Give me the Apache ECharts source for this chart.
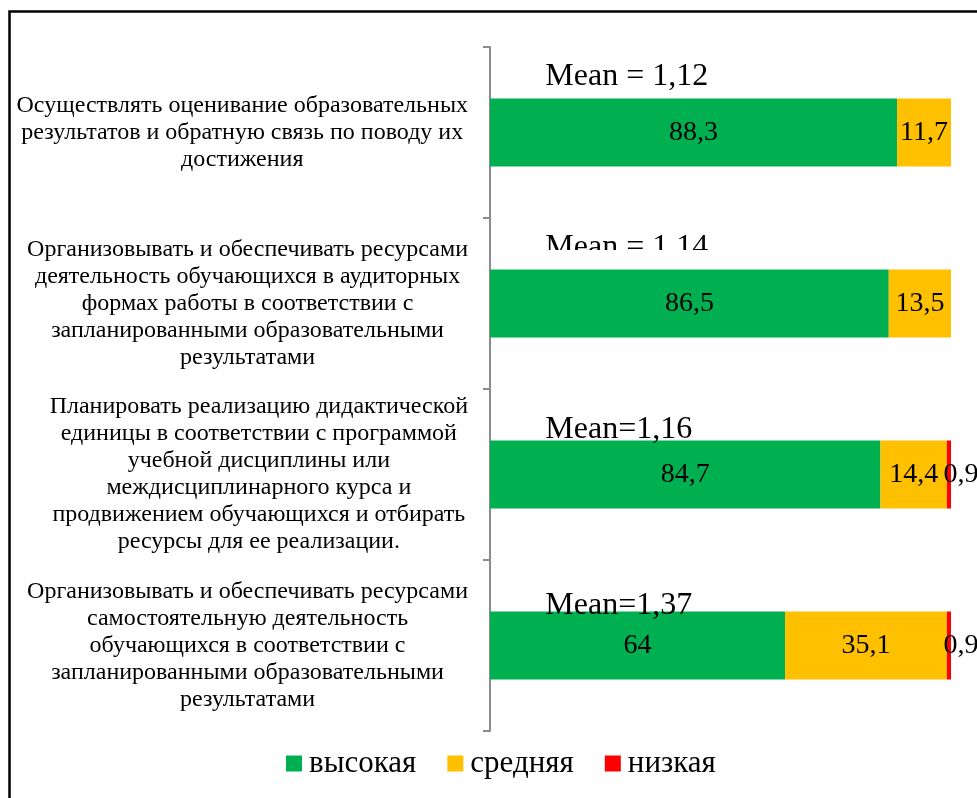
<!DOCTYPE html>
<html>
<head>
<meta charset="utf-8">
<script src="https://cdn.jsdelivr.net/npm/echarts@6/dist/echarts.min.js"></script>
<style>
  html, body { margin: 0; padding: 0; background: #fff; }
  #chart { width: 977px; height: 798px; }
</style>
</head>
<body>
<div id="chart"></div>
<script>
// категории (сверху вниз)
var categories = [
    'Осуществлять оценивание образовательных\nрезультатов и обратную связь по поводу их\nдостижения',
    'Организовывать и обеспечивать ресурсами\nдеятельность обучающихся в аудиторных\nформах работы в соответствии с\nзапланированными образовательными\nрезультатами',
    'Планировать реализацию дидактической\nединицы в соответствии с программой\nучебной дисциплины или\nмеждисциплинарного курса и\nпродвижением обучающихся и отбирать\nресурсы для ее реализации.',
    'Организовывать и обеспечивать ресурсами\nсамостоятельную деятельность\nобучающихся в соответствии с\nзапланированными образовательными\nрезультатами'
];
var seriesNames = ['высокая', 'средняя', 'низкая'];
var high = [88.3, 86.5, 84.7, 64];
var middle = [11.7, 13.5, 14.4, 35.1];
var low = [null, null, 0.9, 0.9];
var meanLabels = ['Mean = 1,12', 'Mean = 1,14', 'Mean=1,16', 'Mean=1,37'];

var font = "'Liberation Serif', 'Times New Roman', serif";
var colors = ['#00b050', '#ffc000', '#ff0000'];
var meanX = 12;                  // где начинается подпись Mean (в % шкалы)
var meanDy = [-56, -56, -45, -40]; // сдвиг подписи Mean над полосой

function fmt(p) {
    return String(p.value).replace('.', ',');
}

function barSeries(name, data, color, label) {
    return {
        name: name,
        type: 'bar',
        stack: 'total',
        barWidth: 68,
        data: data,
        itemStyle: { color: color },
        label: Object.assign({
            show: true,
            position: 'inside',
            color: '#000',
            fontFamily: font,
            fontSize: 28,
            formatter: fmt
        }, label || {})
    };
}

var meanData = meanLabels.map(function (t, i) { return [meanX, i]; });

var option = {
    animation: false,
    textStyle: { fontFamily: font },
    grid: { left: 490, right: 26, top: 47, bottom: 67 },
    legend: {
        data: seriesNames,
        left: 281,
        bottom: 14,
        itemWidth: 16,
        itemHeight: 16,
        itemGap: 31,
        icon: 'rect',
        textStyle: { fontFamily: font, fontSize: 31, color: '#000', padding: [5, 0, 0, 2] }
    },
    xAxis: {
        type: 'value',
        min: 0,
        max: 100,
        show: false
    },
    yAxis: {
        type: 'category',
        inverse: true,
        data: categories,
        axisLine: { show: true, lineStyle: { color: '#8c8c8c', width: 2 } },
        axisTick: { show: true, inside: false, length: 7, lineStyle: { color: '#8c8c8c', width: 2 } },
        axisLabel: {
            margin: 22,
            align: 'right',
            formatter: function (v) {
                return v.split('\n').map(function (l) { return '{c|' + l + '}'; }).join('\n');
            },
            rich: {
                c: {
                    align: 'center',
                    fontFamily: font,
                    fontSize: 24,
                    lineHeight: 27,
                    color: '#000'
                }
            }
        }
    },
    series: [
        barSeries(seriesNames[0], high, colors[0]),
        barSeries(seriesNames[1], middle, colors[1]),
        barSeries(seriesNames[2], low, colors[2], { offset: [12, 0] }),
        {
            type: 'scatter',
            symbolSize: 0,
            silent: true,
            z: 5,
            itemStyle: { opacity: 1 },
            data: meanData.map(function (d, i) {
                return {
                    value: d,
                    label: { offset: [0, meanDy[i]] }
                };
            }),
            label: {
                show: true,
                position: 'right',
                distance: 0,
                color: '#000',
                opacity: 1,
                textBorderWidth: 0,
                fontFamily: font,
                fontSize: 32,
                formatter: function (p) { return meanLabels[p.dataIndex]; }
            }
        }
    ],
    graphic: [
        {
            type: 'rect',
            z: 100,
            shape: { x: 9.5, y: 11.5, width: 1000, height: 820 },
            style: { fill: 'none', stroke: '#000', lineWidth: 2.5 }
        },
        {
            // вторая подпись Mean в оригинале обрезана снизу
            type: 'rect',
            z: 100,
            shape: { x: 530, y: 250, width: 200, height: 19 },
            style: { fill: '#fff' }
        }
    ]
};

var chart = echarts.init(document.getElementById('chart'));
chart.setOption(option);
</script>
</body>
</html>
